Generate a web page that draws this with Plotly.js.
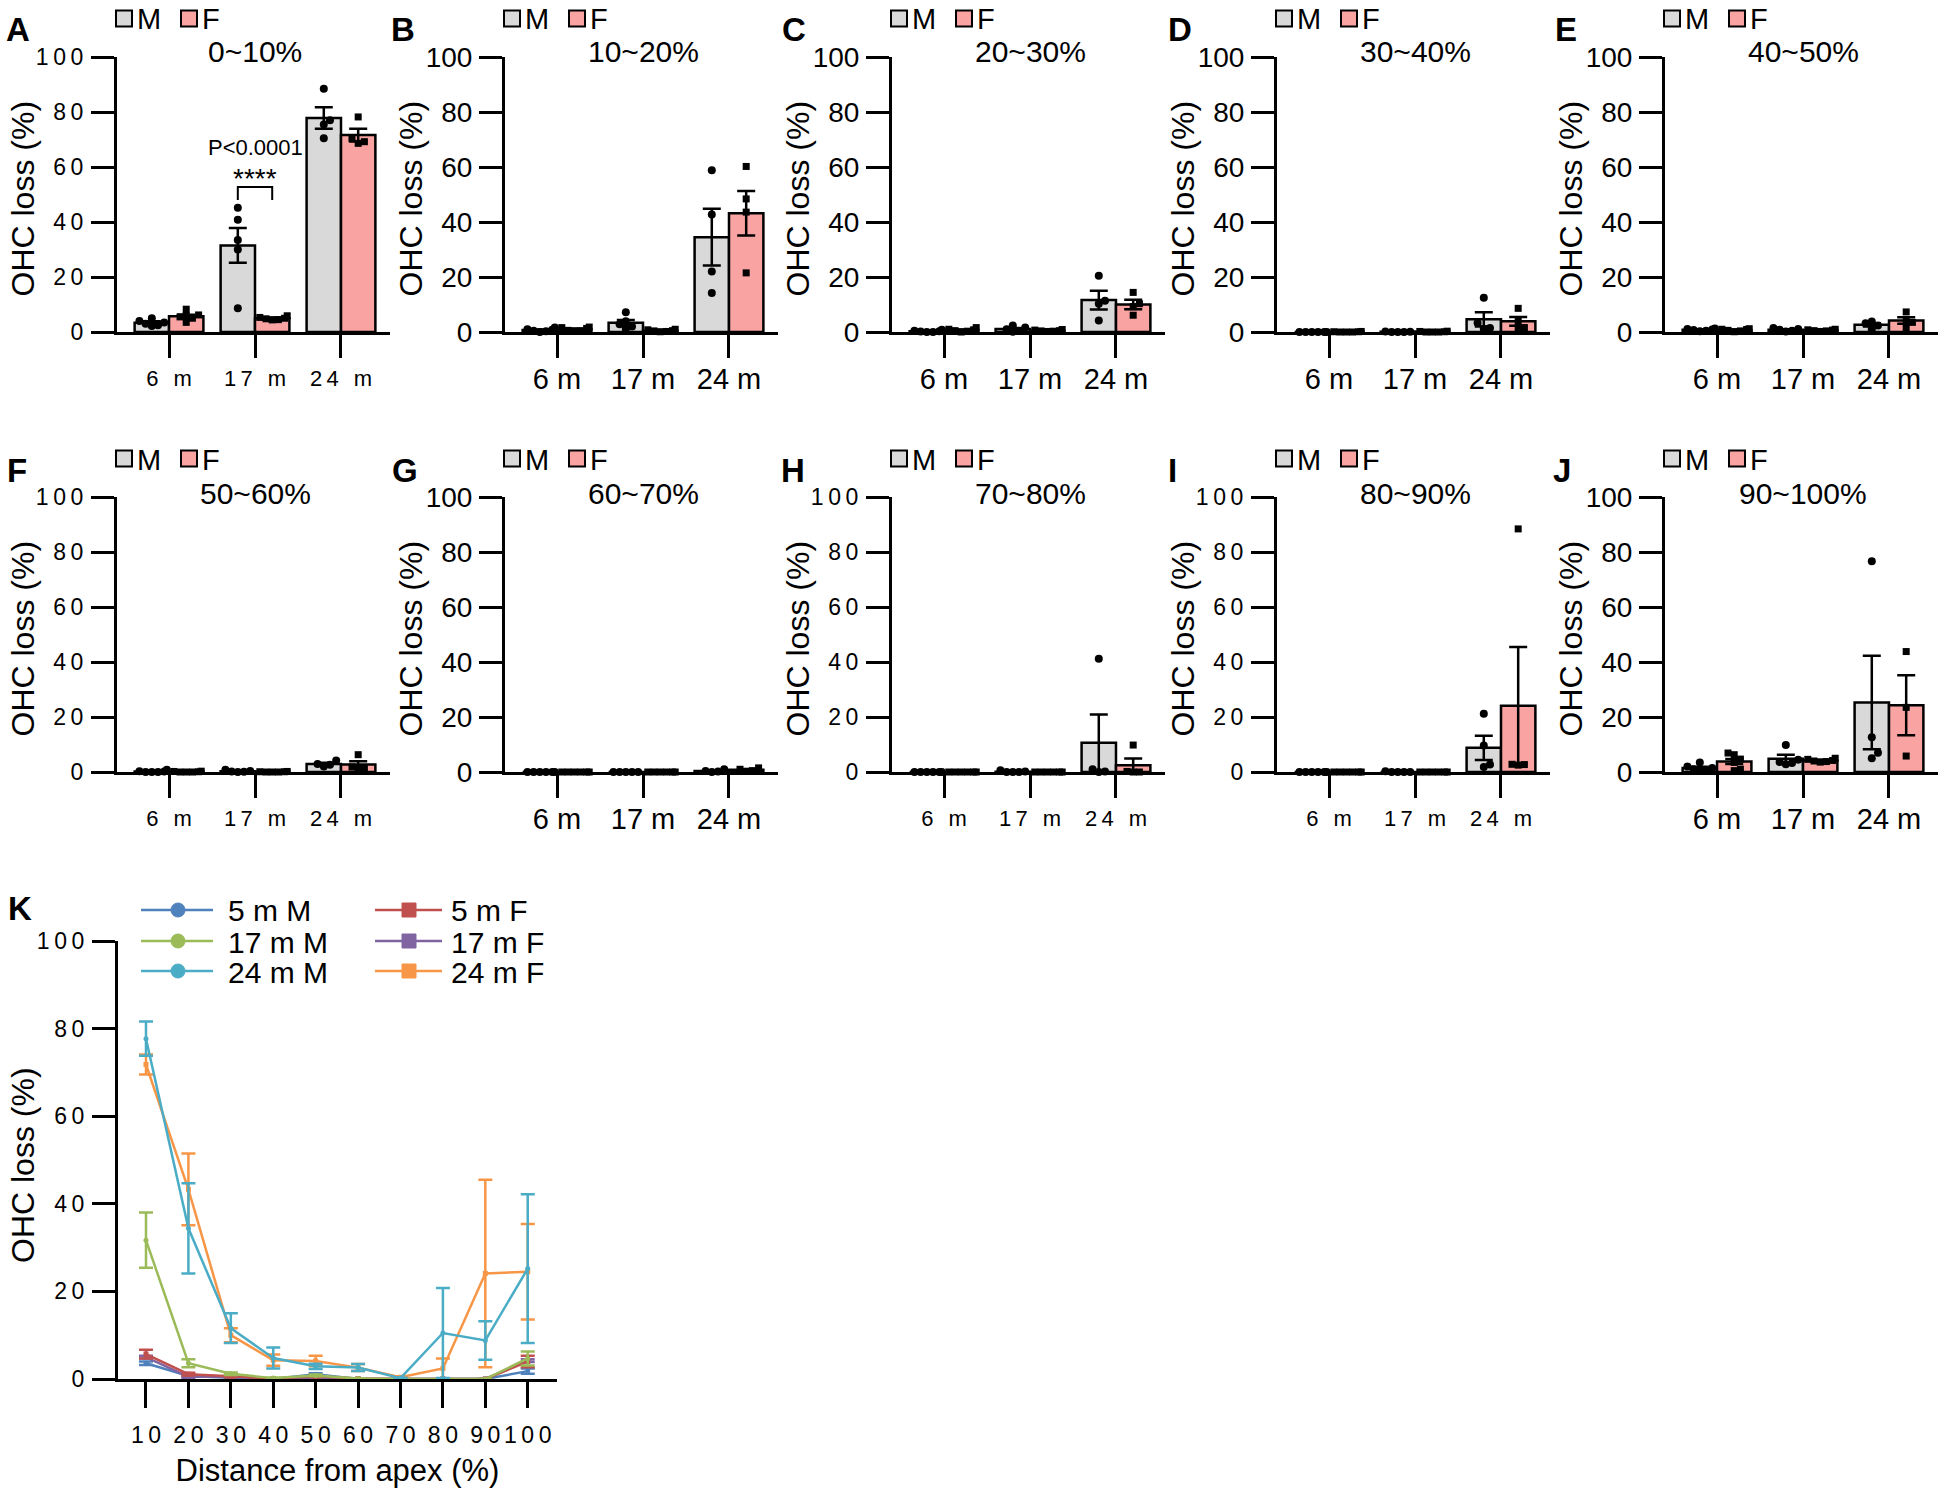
<!DOCTYPE html>
<html>
<head>
<meta charset="utf-8">
<script src="https://cdn.plot.ly/plotly-3.0.1.min.js"></script>
<style>
html,body{margin:0;padding:0;background:#ffffff;}
#chart{width:1950px;height:1488px;}
</style>
</head>
<body>
<div id="chart"></div>
<script>
// ---------------- DATA ----------------
const ages = ['6 m', '17 m', '24 m'];
const regions = ['0~10%', '10~20%', '20~30%', '30~40%', '40~50%', '50~60%', '60~70%', '70~80%', '80~90%', '90~100%'];
const panelLetters = ['A', 'B', 'C', 'D', 'E', 'F', 'G', 'H', 'I', 'J'];
const yTicks = [0, 20, 40, 60, 80, 100];
const sexLabels = ['M', 'F'];
const yTitle = 'OHC loss (%)';

// group means (rows: panels A..J; columns: 6 m, 17 m, 24 m)
const meanM = [
  [3.4, 31.5, 77.8], [0.7, 3.4, 34.5], [0.3, 1.1, 11.6], [0.0, 0.1, 4.6], [0.8, 0.8, 2.6],
  [0.2, 0.3, 2.9], [0.0, 0.0, 0.4], [0.0, 0.1, 10.6], [0.0, 0.0, 8.8], [1.5, 4.8, 25.3]
];
const semM = [
  [0.5, 6.3, 3.9], [0.25, 1.0, 10.3], [0.15, 0.4, 3.4], [0.0, 0.05, 2.6], [0.15, 0.2, 0.6],
  [0.1, 0.1, 0.5], [0.0, 0.0, 0.2], [0.0, 0.05, 10.3], [0.0, 0.0, 4.4], [0.4, 1.5, 17.0]
];
const meanF = [
  [5.7, 5.0, 71.6], [1.0, 0.5, 43.2], [0.7, 0.5, 10.0], [0.1, 0.1, 3.9], [0.7, 0.6, 4.2],
  [0.1, 0.1, 2.7], [0.0, 0.0, 0.8], [0.0, 0.0, 2.5], [0.0, 0.0, 24.1], [3.8, 4.2, 24.3]
];
const semF = [
  [0.6, 0.3, 2.3], [0.3, 0.2, 8.1], [0.25, 0.15, 1.7], [0.05, 0.05, 1.6], [0.2, 0.15, 1.2],
  [0.05, 0.05, 1.2], [0.0, 0.0, 0.3], [0.0, 0.0, 2.4], [0.0, 0.0, 21.4], [0.9, 0.3, 10.9]
];

// individual animals [6 m, 17 m, 24 m]
const ptsA_M = [[5.0, 4.0, 3.5, 3.0, 2.5, 2.2], [45.2, 40.8, 33.5, 30.0, 8.6], [88.5, 77.0, 75.5, 70.5]];
const ptsA_F = [[8.3, 6.2, 6.0, 5.5, 5.0, 3.5], [5.9, 5.3, 5.0, 4.8, 4.5, 4.4], [78.2, 70.3, 69.2, 68.6]];
const ptsB_M = [[1.6, 1.0, 0.8, 0.5, 0.3, 0.0], [7.2, 3.9, 2.8, 2.0, 1.1], [58.8, 42.7, 22.0, 14.2]];
const ptsB_F = [[1.8, 1.6, 1.3, 0.6, 0.4, 0.3], [1.0, 0.8, 0.5, 0.4, 0.2, 0.1], [60.2, 48.4, 43.6, 21.5]];
const ptsC_M = [[0.8, 0.5, 0.3, 0.2, 0.0, 0.0], [2.4, 1.6, 1.0, 0.4, 0.1], [20.5, 11.4, 10.3, 4.2]];
const ptsC_F = [[1.6, 1.0, 0.8, 0.5, 0.3, 0.0], [0.9, 0.7, 0.5, 0.4, 0.3, 0.2], [14.4, 10.3, 9.2, 6.1]];
const ptsD_M = [[0.0, 0.0, 0.0, 0.0, 0.0, 0.0], [0.2, 0.1, 0.0, 0.0, 0.0], [12.5, 3.3, 1.5, 1.2]];
const ptsD_F = [[0.2, 0.1, 0.1, 0.0, 0.0, 0.0], [0.3, 0.2, 0.1, 0.0, 0.0, 0.0], [8.6, 3.8, 1.6, 1.5]];
const ptsE_M = [[1.3, 1.1, 0.9, 0.7, 0.5, 0.3], [1.5, 1.1, 0.8, 0.5, 0.2], [3.8, 3.2, 2.4, 1.0]];
const ptsE_F = [[1.2, 1.0, 0.9, 0.6, 0.4, 0.1], [1.0, 0.8, 0.7, 0.5, 0.4, 0.2], [7.3, 4.5, 3.5, 1.5]];
const ptsF_M = [[0.8, 0.3, 0.2, 0.0, 0.0, 0.0], [0.8, 0.4, 0.2, 0.1, 0.0], [4.2, 2.9, 2.6, 2.0]];
const ptsF_F = [[0.3, 0.2, 0.1, 0.0, 0.0, 0.0], [0.2, 0.1, 0.1, 0.0, 0.0, 0.0], [6.3, 1.8, 1.5, 1.3]];
const ptsG_M = [[0.0, 0.0, 0.0, 0.0, 0.0, 0.0], [0.0, 0.0, 0.0, 0.0, 0.0], [1.0, 0.4, 0.2, 0.0]];
const ptsG_F = [[0.0, 0.0, 0.0, 0.0, 0.0, 0.0], [0.0, 0.0, 0.0, 0.0, 0.0, 0.0], [1.5, 1.0, 0.5, 0.2]];
const ptsH_M = [[0.0, 0.0, 0.0, 0.0, 0.0, 0.0], [0.6, 0.2, 0.0, 0.0, 0.0], [41.2, 1.0, 0.2, 0.0]];
const ptsH_F = [[0.0, 0.0, 0.0, 0.0, 0.0, 0.0], [0.0, 0.0, 0.0, 0.0, 0.0, 0.0], [9.8, 0.2, 0.0, 0.0]];
const ptsI_M = [[0.0, 0.0, 0.0, 0.0, 0.0, 0.0], [0.3, 0.0, 0.0, 0.0, 0.0], [21.2, 9.6, 2.7, 1.8]];
const ptsI_F = [[0.0, 0.0, 0.0, 0.0, 0.0, 0.0], [0.0, 0.0, 0.0, 0.0, 0.0, 0.0], [88.4, 2.8, 2.7, 2.5]];
const ptsJ_M = [[3.5, 2.0, 1.5, 1.0, 0.5, 0.5], [9.8, 4.5, 3.6, 3.3, 2.8], [76.6, 12.6, 7.0, 5.0]];
const ptsJ_F = [[6.9, 6.3, 4.7, 3.5, 1.0, 0.5], [5.0, 4.6, 4.2, 4.0, 3.8, 3.6], [43.8, 23.5, 5.8]];
const pointsM = [ptsA_M, ptsB_M, ptsC_M, ptsD_M, ptsE_M, ptsF_M, ptsG_M, ptsH_M, ptsI_M, ptsJ_M];
const pointsF = [ptsA_F, ptsB_F, ptsC_F, ptsD_F, ptsE_F, ptsF_F, ptsG_F, ptsH_F, ptsI_F, ptsJ_F];

// significance in panel A
const sigText = 'P<0.0001';
const sigStars = '****';

// Panel K: distance from apex
const distance = [10, 20, 30, 40, 50, 60, 70, 80, 90, 100];
const kNames = ['5 m M', '17 m M', '24 m M', '5 m F', '17 m F', '24 m F'];
const k5mM = [3.6, 0.7, 0.3, 0.0, 1.1, 0.0, 0.0, 0.0, 0.0, 1.8];
const k5mM_sem = [0.4, 0.2, 0.1, 0.0, 0.2, 0.0, 0.0, 0.0, 0.0, 0.6];
const k17mM = [31.7, 3.6, 1.2, 0.2, 0.8, 0.1, 0.0, 0.0, 0.0, 4.7];
const k17mM_sem = [6.3, 0.9, 0.3, 0.1, 0.2, 0.05, 0.0, 0.0, 0.0, 1.6];
const k24mM = [77.7, 34.4, 11.6, 4.8, 2.9, 2.6, 0.2, 10.5, 8.8, 25.2];
const k24mM_sem = [3.9, 10.3, 3.4, 2.4, 0.6, 0.8, 0.1, 10.3, 4.4, 17.0];
const k5mF = [5.7, 1.1, 0.6, 0.1, 0.6, 0.1, 0.0, 0.0, 0.0, 4.0];
const k5mF_sem = [1.0, 0.3, 0.2, 0.05, 0.2, 0.05, 0.0, 0.0, 0.0, 1.3];
const k17mF = [5.0, 0.5, 0.5, 0.1, 0.3, 0.0, 0.0, 0.0, 0.0, 4.2];
const k17mF_sem = [0.3, 0.2, 0.15, 0.05, 0.15, 0.0, 0.0, 0.0, 0.0, 0.3];
const k24mF = [71.8, 43.3, 10.0, 4.3, 4.1, 2.6, 0.4, 2.4, 24.1, 24.5];
const k24mF_sem = [2.3, 8.2, 1.6, 1.3, 1.2, 0.8, 0.2, 2.3, 21.4, 10.9];
const kXTitle = 'Distance from apex (%)';

// ---------------- STYLE / LAYOUT ----------------
const FONT = 'Liberation Sans, Arial, Helvetica, sans-serif';
const W = 1950, H = 1488;
const colLeft = [117, 505, 892, 1277, 1665];
const rowTop = [57, 497], rowBot = [332, 772];
const PW = 273;
const XR = [-0.605, 2.57];
const spacedPanel = [true, false, false, false, false, true, false, true, true, false];
const COL_M = '#D9D9D9', COL_F = '#F9A3A3';
const kColors = ['#4F81BD', '#9BBB59', '#4BACC6', '#C0504D', '#8064A2', '#F79646'];
const kSymbols = ['circle', 'circle', 'circle', 'square', 'square', 'square'];

function spaced(s) {
  return s.split('').map(c => c === ' ' ? '\u00a0' : c).join('\u2009');
}
function px2x(px) { return px / W; }
function py2y(py) { return 1 - py / H; }

// beeswarm offsets (in x data units)
function swarm(vals, pxPerX, pxPerY, dPx, maxOff) {
  const order = vals.map((v, i) => i).sort((a, b) => vals[a] - vals[b]);
  const placed = [];
  const off = new Array(vals.length).fill(0);
  order.forEach(i => {
    const yi = vals[i] * pxPerY;
    for (let k = 0; k < 40; k++) {
      const cand = (k === 0 ? 0 : (k % 2 ? 1 : -1) * Math.ceil(k / 2)) * dPx;
      const ok = placed.every(p => Math.hypot(p.x - cand, p.y - yi) >= dPx - 0.01);
      if (ok || k === 39) {
        const c = Math.max(-maxOff, Math.min(maxOff, cand));
        off[i] = c; placed.push({x: c, y: yi}); break;
      }
    }
  });
  return off.map(o => o / pxPerX);
}

const data = [];
const annotations = [];
const shapes = [];
const layout = {
  width: W, height: H,
  margin: {l: 0, r: 0, t: 0, b: 0},
  paper_bgcolor: '#ffffff', plot_bgcolor: 'rgba(0,0,0,0)',
  showlegend: false, barmode: 'overlay',
  font: {family: FONT, color: '#000'},
  annotations: annotations, shapes: shapes
};

const pxPerX = PW / (XR[1] - XR[0]);
const pxPerY = (rowBot[0] - rowTop[0]) / 100;

for (let p = 0; p < 10; p++) {
  const n = p + 1;
  const xa = n === 1 ? 'x' : 'x' + n;
  const ya = n === 1 ? 'y' : 'y' + n;
  const r = Math.floor(p / 5), c = p % 5;
  const L = colLeft[c];
  const sp = spacedPanel[p];

  layout['xaxis' + (n === 1 ? '' : n)] = {
    domain: [px2x(L), px2x(L + PW)], range: XR, anchor: ya,
    tickmode: 'array', tickvals: [0, 1, 2], ticktext: ages.map(a => sp ? spaced(a) : a),
    ticks: 'outside', ticklen: 23, tickwidth: 3, tickcolor: '#000',
    ticklabelstandoff: sp ? 2 : -4,
    showline: true, linewidth: 3, linecolor: '#000',
    showgrid: false, zeroline: false, fixedrange: true,
    tickfont: {family: FONT, size: sp ? 22 : 29, color: '#000'}
  };
  layout['yaxis' + (n === 1 ? '' : n)] = {
    domain: [py2y(rowBot[r]), py2y(rowTop[r])], range: [0, 100], anchor: xa,
    tickmode: 'array', tickvals: yTicks, ticktext: yTicks.map(t => sp ? spaced(String(t)) : String(t)),
    ticks: 'outside', ticklen: 23, tickwidth: 3, tickcolor: '#000',
    ticklabelstandoff: sp ? 3 : 1,
    showline: true, linewidth: 3, linecolor: '#000',
    showgrid: false, zeroline: false, fixedrange: true,
    tickfont: {family: FONT, size: sp ? 23 : 28, color: '#000'}
  };
  // y-axis title
  annotations.push({
    xref: 'paper', yref: 'paper', x: px2x(L - 95), y: py2y((rowTop[r] + rowBot[r]) / 2 + 4),
    text: yTitle, textangle: -90, showarrow: false, xanchor: 'center', yanchor: 'middle',
    font: {family: FONT, size: 32, color: '#000'}
  });

  const groups = [
    {mean: meanM[p], sem: semM[p], pts: pointsM[p], off: -0.2, col: COL_M, sym: 'circle', size: 8, name: 'M'},
    {mean: meanF[p], sem: semF[p], pts: pointsF[p], off: 0.2, col: COL_F, sym: 'square', size: 7, name: 'F'}
  ];
  groups.forEach(g => {
    data.push({
      type: 'bar', name: g.name, xaxis: xa, yaxis: ya,
      x: ages.map((a, i) => i + g.off), y: g.mean, width: 0.4,
      marker: {color: g.col, line: {color: '#000', width: 2.5}},
      error_y: {type: 'data', array: g.sem, visible: true, color: '#000', thickness: 2.5, width: 9},
      hoverinfo: 'skip'
    });
  });
  groups.forEach(g => {
    const xs = [], ys = [];
    g.pts.forEach((vals, i) => {
      const offs = swarm(vals, pxPerX, pxPerY, 6.2, 15);
      vals.forEach((v, j) => { xs.push(i + g.off + offs[j]); ys.push(v); });
    });
    data.push({
      type: 'scatter', mode: 'markers', xaxis: xa, yaxis: ya, x: xs, y: ys,
      marker: {symbol: g.sym, size: g.size, color: '#000', line: {width: 0}},
      cliponaxis: false, hoverinfo: 'skip', showlegend: false
    });
  });

  // region title
  annotations.push({
    xref: xa, yref: 'paper', x: 1, y: py2y(r === 0 ? 52 : 493),
    text: regions[p], showarrow: false, xanchor: 'center', yanchor: 'middle',
    font: {family: FONT, size: 30, color: '#000'}
  });
  // panel letter
  const letterX = [[18, 403, 794, 1180, 1566], [17, 405, 793, 1172, 1562]][r][c];
  annotations.push({
    xref: 'paper', yref: 'paper', x: px2x(letterX), y: py2y(r === 0 ? 30 : 470),
    text: '<b>' + panelLetters[p] + '</b>', showarrow: false, xanchor: 'center', yanchor: 'middle',
    font: {family: FONT, size: 33, color: '#000'}
  });
  // M / F key
  const ly = r === 0 ? 18.5 : 458.5;
  [[L - 1, COL_M, L + 18, sexLabels[0]], [L + 64, COL_F, L + 83, sexLabels[1]]].forEach(k => {
    shapes.push({
      type: 'rect', xref: 'paper', yref: 'paper',
      x0: px2x(k[0]), x1: px2x(k[0] + 16), y0: py2y(ly + 8), y1: py2y(ly - 8),
      fillcolor: k[1], line: {color: '#000', width: 2}
    });
    annotations.push({
      xref: 'paper', yref: 'paper', x: px2x(k[2]), y: py2y(ly + 1),
      text: k[3], showarrow: false, xanchor: 'left', yanchor: 'middle',
      font: {family: FONT, size: 29, color: '#000'}
    });
  });
}

// significance bracket in panel A (17 m: M vs F)
annotations.push({xref: 'x', yref: 'y', x: 1, y: 67, text: sigText, showarrow: false,
  xanchor: 'center', yanchor: 'middle', font: {family: FONT, size: 22, color: '#000'}});
annotations.push({xref: 'x', yref: 'y', x: 1, y: 55.8, text: sigStars, showarrow: false,
  xanchor: 'center', yanchor: 'middle', font: {family: FONT, size: 28, color: '#000'}});
shapes.push({type: 'path', xref: 'x', yref: 'y',
  path: 'M 0.8,48 L 0.8,52.7 L 1.2,52.7 L 1.2,48', line: {color: '#000', width: 2}});

// ---------------- PANEL K ----------------
const kVals = [k5mM, k17mM, k24mM, k5mF, k17mF, k24mF];
const kSems = [k5mM_sem, k17mM_sem, k24mM_sem, k5mF_sem, k17mF_sem, k24mF_sem];
const kOrder = [5, 0, 4, 3, 1, 2];
kOrder.forEach(i => {
  data.push({
    type: 'scatter', mode: 'lines+markers', name: kNames[i], xaxis: 'x11', yaxis: 'y11',
    x: distance, y: kVals[i],
    line: {color: kColors[i], width: 2.5},
    marker: {color: kColors[i], symbol: kSymbols[i], size: 5},
    error_y: {type: 'data', array: kSems[i], visible: true, color: kColors[i], thickness: 2.5, width: 7},
    cliponaxis: false, hoverinfo: 'skip'
  });
});
layout.xaxis11 = {
  domain: [px2x(118), px2x(557)], range: [3.4, 106.9], anchor: 'y11',
  tickmode: 'array', tickvals: distance, ticktext: distance.map(d => spaced(String(d))),
  ticks: 'outside', ticklen: 26, tickwidth: 3, tickcolor: '#000', ticklabelstandoff: 7,
  showline: true, linewidth: 3, linecolor: '#000', showgrid: false, zeroline: false, fixedrange: true,
  tickfont: {family: FONT, size: 23, color: '#000'},
  title: {text: kXTitle, font: {family: FONT, size: 31, color: '#000'}, standoff: 14}
};
layout.yaxis11 = {
  domain: [py2y(1379), py2y(941)], range: [0, 100], anchor: 'x11',
  tickmode: 'array', tickvals: yTicks, ticktext: yTicks.map(t => spaced(String(t))),
  ticks: 'outside', ticklen: 23, tickwidth: 3, tickcolor: '#000', ticklabelstandoff: 3,
  showline: true, linewidth: 3, linecolor: '#000', showgrid: false, zeroline: false, fixedrange: true,
  tickfont: {family: FONT, size: 23, color: '#000'}
};
annotations.push({xref: 'paper', yref: 'paper', x: px2x(23), y: py2y(1165),
  text: yTitle, textangle: -90, showarrow: false, xanchor: 'center', yanchor: 'middle',
  font: {family: FONT, size: 32, color: '#000'}});
annotations.push({xref: 'paper', yref: 'paper', x: px2x(20), y: py2y(909), text: '<b>K</b>',
  showarrow: false, xanchor: 'center', yanchor: 'middle', font: {family: FONT, size: 33, color: '#000'}});

// legend for K (two columns of three)
const legRows = [910, 941, 971];
const legCols = [{x0: 141, x1: 213, m: 178, t: 226}, {x0: 375, x1: 442, m: 409, t: 449}];
kNames.forEach((nm, i) => {
  const col = legCols[Math.floor(i / 3)];
  const yy = legRows[i % 3];
  shapes.push({type: 'line', xref: 'paper', yref: 'paper',
    x0: px2x(col.x0), x1: px2x(col.x1), y0: py2y(yy), y1: py2y(yy),
    line: {color: kColors[i], width: 2.5}});
  shapes.push({type: kSymbols[i] === 'circle' ? 'circle' : 'rect', xref: 'paper', yref: 'paper',
    x0: px2x(col.m - 7), x1: px2x(col.m + 7), y0: py2y(yy + 7), y1: py2y(yy - 7),
    fillcolor: kColors[i], line: {color: kColors[i], width: 1}});
  annotations.push({xref: 'paper', yref: 'paper', x: px2x(col.t), y: py2y(yy + 1), text: nm,
    showarrow: false, xanchor: 'left', yanchor: 'middle', font: {family: FONT, size: 30, color: '#000'}});
});

Plotly.newPlot('chart', data, layout, {staticPlot: true, displayModeBar: false});
</script>
</body>
</html>
